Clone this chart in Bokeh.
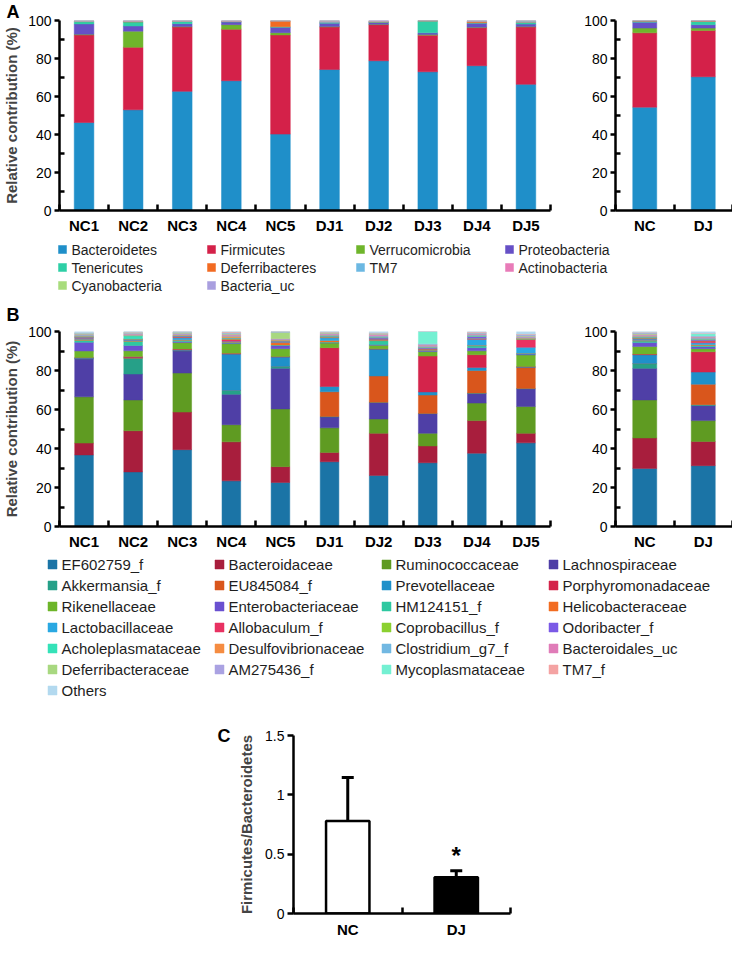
from bokeh.plotting import figure
from bokeh.models import (Range1d, FixedTicker, Whisker, TeeHead, ColumnDataSource)
from bokeh.layouts import column, row
from bokeh.embed import file_html
from bokeh.resources import INLINE
from bokeh.core.properties import value

FONT = "Liberation Sans"

# ---------------- data ----------------
samples = ["NC1", "NC2", "NC3", "NC4", "NC5", "DJ1", "DJ2", "DJ3", "DJ4", "DJ5"]
groups = ["NC", "DJ"]

phyla = ["Bacteroidetes", "Firmicutes", "Verrucomicrobia", "Proteobacteria",
         "Tenericutes", "Deferribacteres", "TM7", "Actinobacteria",
         "Cyanobacteria", "Bacteria_uc"]

phyla_NC1 = [46.3, 46.1, 0.3, 5.5, 1.2, 0.1, 0.2, 0.1, 0.1, 0.1]
phyla_NC2 = [53.0, 32.9, 8.5, 2.7, 2.1, 0.3, 0.1, 0.2, 0.1, 0.1]
phyla_NC3 = [62.7, 33.9, 0.2, 1.5, 1.2, 0.1, 0.1, 0.1, 0.1, 0.1]
phyla_NC4 = [68.3, 27.1, 2.4, 1.4, 0.2, 0.1, 0.1, 0.2, 0.1, 0.1]
phyla_NC5 = [40.2, 52.2, 1.2, 2.8, 0.3, 3.0, 0.1, 0.1, 0.05, 0.05]
phyla_DJ1 = [74.2, 22.4, 0.2, 1.8, 0.3, 0.1, 0.6, 0.2, 0.1, 0.1]
phyla_DJ2 = [78.8, 19.0, 0.2, 0.9, 0.3, 0.1, 0.2, 0.2, 0.1, 0.2]
phyla_DJ3 = [73.0, 19.3, 0.3, 0.9, 6.3, 0.05, 0.05, 0.0, 0.05, 0.05]
phyla_DJ4 = [76.2, 20.0, 0.3, 2.0, 0.3, 0.6, 0.2, 0.2, 0.1, 0.1]
phyla_DJ5 = [66.4, 30.2, 0.2, 1.3, 0.8, 0.2, 0.6, 0.1, 0.1, 0.1]
phyla_NC = [54.4, 39.1, 2.5, 3.1, 0.5, 0.2, 0.1, 0.1, 0.05, 0.05]
phyla_DJ = [70.4, 24.4, 1.2, 1.8, 1.7, 0.2, 0.2, 0.05, 0.05, 0.0]

families = ["EF602759_f", "Bacteroidaceae", "Ruminococcaceae", "Lachnospiraceae",
            "Akkermansia_f", "EU845084_f", "Prevotellaceae", "Porphyromonadaceae",
            "Rikenellaceae", "Enterobacteriaceae", "HM124151_f", "Helicobacteraceae",
            "Lactobacillaceae", "Allobaculum_f", "Coprobacillus_f", "Odoribacter_f",
            "Acholeplasmataceae", "Desulfovibrionaceae", "Clostridium_g7_f", "Bacteroidales_uc",
            "Deferribacteraceae", "AM275436_f", "Mycoplasmataceae", "TM7_f", "Others"]

fam_NC1 = [36.7, 6.1, 23.7, 19.5, 0.1, 0.1, 0.3, 0.2, 3.3, 4.5, 1.0, 0.5, 0.6, 0.3, 0.2, 0.3, 0.2, 0.3, 0.4, 0.3, 0.2, 0.3, 0.1, 0.2, 0.6]
fam_NC2 = [28.0, 21.1, 15.8, 13.3, 8.1, 0.2, 0.2, 0.5, 2.9, 2.7, 2.2, 0.3, 0.3, 0.3, 0.2, 0.2, 1.5, 0.3, 0.4, 0.3, 0.3, 0.3, 0.2, 0.2, 0.2]
fam_NC3 = [39.4, 19.3, 20.0, 11.4, 0.1, 0.1, 0.3, 0.4, 3.3, 0.6, 0.6, 0.3, 1.0, 0.4, 0.2, 0.3, 0.2, 0.3, 0.4, 0.4, 0.2, 0.4, 0.1, 0.2, 0.1]
fam_NC4 = [23.4, 20.0, 8.8, 15.6, 2.0, 0.0, 18.6, 0.5, 4.9, 0.3, 0.4, 0.2, 0.3, 1.0, 0.3, 0.2, 0.3, 0.8, 0.3, 0.6, 0.3, 0.4, 0.2, 0.4, 0.2]
fam_NC5 = [22.6, 8.1, 29.6, 20.8, 0.9, 0.1, 4.8, 0.3, 4.0, 1.6, 0.3, 1.2, 0.3, 0.2, 0.2, 0.3, 0.1, 0.3, 0.3, 0.3, 3.3, 0.2, 0.1, 0.1, 0.0]
fam_DJ1 = [33.2, 4.8, 12.6, 5.6, 0.2, 12.7, 2.7, 19.9, 2.4, 0.2, 0.3, 0.8, 1.4, 0.3, 0.2, 0.3, 0.2, 0.3, 0.3, 0.6, 0.2, 0.3, 0.1, 0.2, 0.2]
fam_DJ2 = [26.2, 21.6, 7.3, 8.5, 0.1, 13.5, 13.8, 0.1, 1.9, 0.3, 2.0, 0.3, 0.4, 0.3, 0.1, 0.6, 0.2, 0.3, 0.3, 0.8, 0.1, 0.3, 0.1, 0.3, 0.6]
fam_DJ3 = [32.7, 8.6, 6.5, 10.1, 0.1, 9.4, 1.6, 18.4, 2.3, 0.5, 0.2, 0.1, 0.3, 0.2, 0.3, 0.5, 0.2, 0.2, 0.3, 0.6, 0.1, 0.5, 6.3, 0.1, 0.0]
fam_DJ4 = [37.6, 16.7, 9.0, 5.0, 0.1, 11.6, 1.6, 6.5, 2.0, 1.6, 1.0, 0.3, 3.0, 0.3, 0.2, 1.0, 0.2, 0.3, 0.4, 0.4, 0.2, 0.3, 0.1, 0.3, 0.3]
fam_DJ5 = [42.9, 4.9, 13.7, 9.1, 0.2, 10.7, 0.3, 0.2, 6.0, 0.4, 0.3, 0.2, 3.0, 4.0, 0.2, 0.3, 0.1, 0.2, 0.3, 0.5, 0.2, 0.6, 0.1, 0.3, 1.3]
fam_NC = [29.8, 15.6, 19.5, 16.2, 2.4, 0.1, 4.5, 0.3, 3.9, 2.0, 0.8, 0.4, 0.6, 0.4, 0.2, 0.3, 0.2, 0.4, 0.4, 0.4, 0.5, 0.4, 0.1, 0.2, 0.4]
fam_DJ = [31.2, 12.4, 10.7, 7.7, 0.5, 10.5, 6.2, 10.4, 1.6, 1.0, 0.6, 0.4, 1.0, 0.9, 0.3, 0.5, 0.2, 0.3, 0.3, 0.5, 0.1, 0.4, 1.2, 0.2, 0.9]

fb_mean = [0.78, 0.305]
fb_sd = [0.367, 0.055]
fb_sig = ["", "*"]

# ---------------- styles ----------------
phyla_colors = ["#1f8fc9", "#d42149", "#6fb52b", "#6650c6", "#2ecfa6", "#f26b22",
                "#6cb8e2", "#e87bb8", "#a8dc7c", "#a99fdf"]
fam_colors = ["#1b74a6", "#a81e3d", "#5f9b22", "#4f3fa6", "#26a088", "#d9561c",
              "#1f90c9", "#d4244b", "#6db52a", "#6a50d0", "#2ec8a0", "#f26c22",
              "#2aa8e2", "#e83262", "#8bd030", "#7b5ae6", "#34e2b8", "#f58c42",
              "#72b8e2", "#e07cb8", "#a8d880", "#aaa2e2", "#74f0d2", "#f4a3a3", "#b3d9ef"]


def set_letter(p, letter, offset, standoff):
    p.title.text = letter
    p.title.align = "left"
    p.title.offset = offset
    p.title.standoff = standoff
    p.title.text_font = FONT
    p.title.text_font_size = "18px"
    p.title.text_font_style = "bold"
    p.title.text_color = "black"


def make_stack(names, colors, cols, labels, width, height, bl, br, bt, bb, bar_w, ylabel=None):
    n = len(labels)
    idx = list(range(n))
    data = {"x": idx}
    for j, nm in enumerate(names):
        data[nm] = [c[j] for c in cols]
    p = figure(width=width, height=height, x_range=Range1d(-0.5, n - 0.5),
               y_range=Range1d(0, 100), toolbar_location=None, output_backend="svg",
               min_border_left=bl, min_border_right=br, min_border_top=bt,
               min_border_bottom=bb)
    p.vbar_stack(names, x="x", width=bar_w, color=colors, line_width=0.5,
                 source=ColumnDataSource(data))
    p.grid.visible = False
    p.outline_line_color = None
    xa = p.xaxis[0]
    xa.ticker = FixedTicker(ticks=idx, minor_ticks=[i - 0.5 for i in range(n + 1)])
    xa.major_label_overrides = {i: s for i, s in enumerate(labels)}
    xa.major_tick_in = 0
    xa.major_tick_out = 0
    xa.minor_tick_in = 6
    xa.minor_tick_out = 0
    xa.minor_tick_line_width = 2.5
    xa.minor_tick_line_color = "black"
    xa.axis_line_width = 2.5
    xa.axis_line_color = "black"
    xa.major_label_text_font = FONT
    xa.major_label_text_font_size = "15px"
    xa.major_label_text_font_style = "bold"
    xa.major_label_text_color = "black"
    xa.major_label_standoff = 6
    ya = p.yaxis[0]
    ya.ticker = FixedTicker(ticks=[0, 20, 40, 60, 80, 100], minor_ticks=[10, 30, 50, 70, 90])
    ya.major_tick_out = 5
    ya.major_tick_in = 0
    ya.minor_tick_in = 5
    ya.minor_tick_out = 0
    ya.major_tick_line_width = 2.5
    ya.minor_tick_line_width = 2.5
    ya.minor_tick_line_color = "black"
    ya.axis_line_width = 2.5
    ya.axis_line_color = "black"
    ya.major_label_text_font = FONT
    ya.major_label_text_font_size = "14px"
    ya.major_label_text_color = "black"
    ya.major_label_standoff = 3
    if ylabel:
        ya.axis_label = ylabel
        ya.axis_label_text_font = FONT
        ya.axis_label_text_font_size = "15px"
        ya.axis_label_text_font_style = "bold"
        ya.axis_label_standoff = 5
    return p


def legend_fig(names, colors, height, x0, y0, col_pitch, row_pitch, font_size, sq):
    n = len(names)
    cols = [i % 4 for i in range(n)]
    rws = [i // 4 for i in range(n)]
    gx = [x0 + c * col_pitch for c in cols]
    gy = [y0 + r * row_pitch for r in rws]
    p = figure(width=732, height=height, x_range=Range1d(0, 732), y_range=Range1d(height, 0),
               x_axis_type=None, y_axis_type=None, toolbar_location=None,
               output_backend="svg", min_border=0)
    p.outline_line_color = None
    p.grid.visible = False
    p.scatter(x=gx, y=gy, marker="square", size=sq, fill_color=colors, line_color=colors,
              line_width=0.5)
    p.text(x=[x + 9 for x in gx], y=gy, text=names, text_baseline="middle",
           text_align="left", text_font=value(FONT), text_font_size=font_size,
           text_color="#1e1e1e")
    return p


# ---------------- panel A ----------------
pA = make_stack(phyla, phyla_colors,
                [phyla_NC1, phyla_NC2, phyla_NC3, phyla_NC4, phyla_NC5,
                 phyla_DJ1, phyla_DJ2, phyla_DJ3, phyla_DJ4, phyla_DJ5],
                samples, 575, 236, 53, 25, 19, 24, 0.4, "Relative contribution (%)")
set_letter(pA, "A", -53, -2)
pA2 = make_stack(phyla, phyla_colors, [phyla_NC, phyla_DJ], groups,
                 157, 236, 40, 0, 19, 24, 0.41)
legA = legend_fig(phyla, phyla_colors, 59, 62, 13, 149, 18, "14px", 8)

# ---------------- panel B ----------------
pB = make_stack(families, fam_colors,
                [fam_NC1, fam_NC2, fam_NC3, fam_NC4, fam_NC5,
                 fam_DJ1, fam_DJ2, fam_DJ3, fam_DJ4, fam_DJ5],
                samples, 575, 257, 53, 25, 36, 25, 0.38, "Relative contribution (%)")
set_letter(pB, "B", -53, 13)
pB2 = make_stack(families, fam_colors, [fam_NC, fam_DJ], groups,
                 157, 257, 40, 0, 36, 25, 0.41)
legB = legend_fig(families, fam_colors, 147, 52, 12, 167, 21, "15px", 9)

# ---------------- panel C ----------------
cidx = list(range(len(groups)))
csrc = ColumnDataSource(dict(x=cidx, mean=fb_mean,
                             upper=[m + s for m, s in zip(fb_mean, fb_sd)],
                             sig=fb_sig, fill=["white", "black"]))
pC = figure(width=732, height=241, x_range=Range1d(-0.5, len(groups) - 0.5),
            y_range=Range1d(0, 1.5), toolbar_location=None, output_backend="svg",
            min_border_left=293, min_border_right=222, min_border_top=36,
            min_border_bottom=25)
pC.add_layout(Whisker(source=csrc, base="x", lower="mean", upper="upper",
                      line_width=3, line_color="black",
                      upper_head=TeeHead(size=12, line_width=3, line_color="black"),
                      lower_head=None))
pC.vbar(x="x", top="mean", width=0.4, fill_color="fill", line_color="black",
        line_width=2.5, source=csrc)
pC.text(x="x", y="upper", text="sig", source=csrc, text_align="center",
        text_baseline="bottom", text_font=value(FONT), text_font_size="24px",
        text_font_style="bold", y_offset=-2, text_color="black")
pC.grid.visible = False
pC.outline_line_color = None
xa = pC.xaxis[0]
xa.ticker = FixedTicker(ticks=cidx, minor_ticks=[i - 0.5 for i in range(len(groups) + 1)])
xa.major_label_overrides = {i: s for i, s in enumerate(groups)}
xa.major_tick_in = 0
xa.major_tick_out = 0
xa.minor_tick_in = 6
xa.minor_tick_out = 0
xa.minor_tick_line_width = 2.5
xa.minor_tick_line_color = "black"
xa.axis_line_width = 2.5
xa.major_label_text_font = FONT
xa.major_label_text_font_size = "15px"
xa.major_label_text_font_style = "bold"
xa.major_label_text_color = "black"
xa.major_label_standoff = 7
ya = pC.yaxis[0]
ya.ticker = FixedTicker(ticks=[0, 0.5, 1, 1.5])
ya.major_label_overrides = {0: "0", 0.5: "0.5", 1: "1", 1.5: "1.5"}
ya.major_tick_out = 6
ya.major_tick_in = 0
ya.minor_tick_out = 0
ya.minor_tick_in = 0
ya.major_tick_line_width = 2.5
ya.axis_line_width = 2.5
ya.major_label_text_font = FONT
ya.major_label_text_font_size = "14px"
ya.major_label_text_color = "black"
ya.major_label_standoff = 3
ya.axis_label = "Firmicutes/Bacteroidetes"
ya.axis_label_text_font = FONT
ya.axis_label_text_font_size = "15px"
ya.axis_label_text_font_style = "bold"
ya.axis_label_standoff = 7
set_letter(pC, "C", -76, -20)

layout = column(row(pA, pA2), row(legA), row(pB, pB2), row(legB), row(pC))
open("out.html", "w").write(file_html(layout, INLINE))
